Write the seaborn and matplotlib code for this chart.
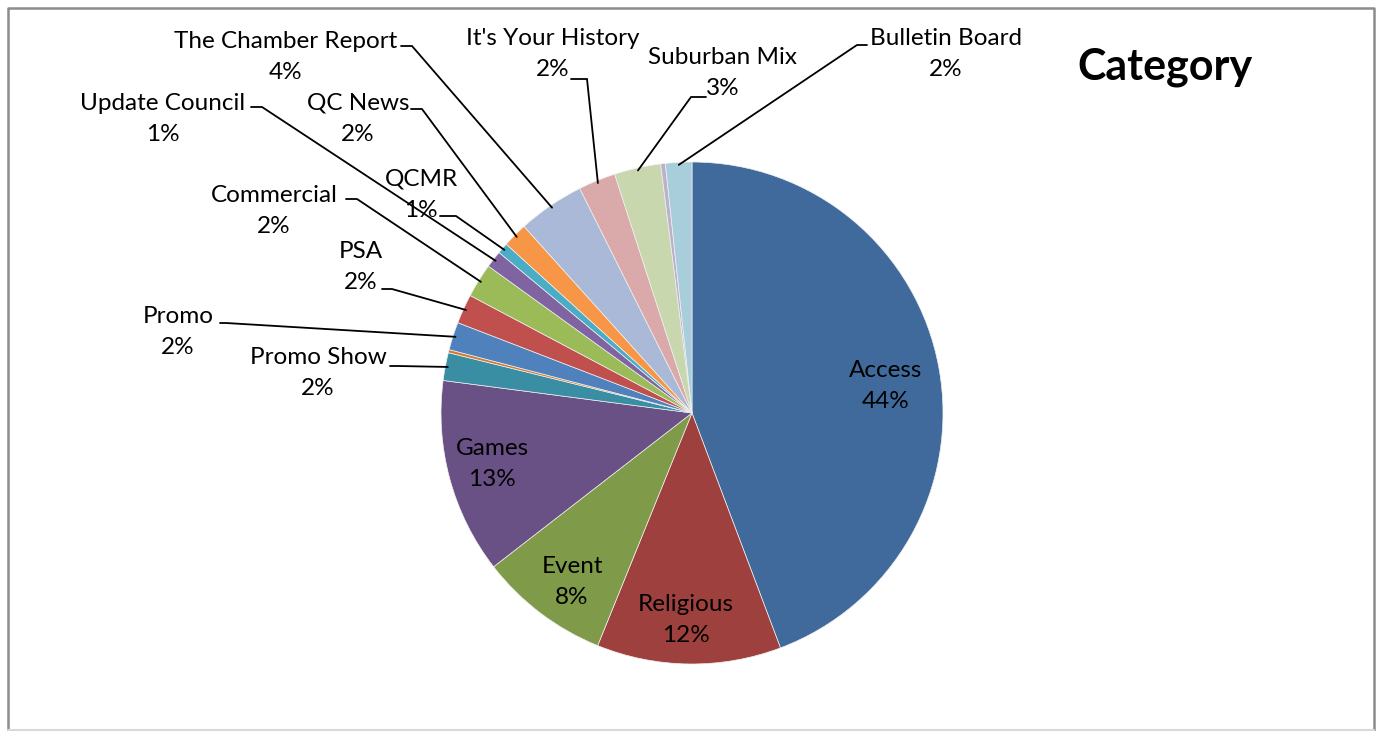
import matplotlib
matplotlib.use("Agg")
import matplotlib.pyplot as plt
import seaborn as sns
import numpy as np

# slice data, clockwise from 12 o'clock (two unlabeled slivers have no name)
categories = ["Access", "Religious", "Event", "Games", "Promo Show", "",
              "Promo", "PSA", "Commercial", "Update Council", "QCMR", "QC News",
              "The Chamber Report", "It's Your History", "Suburban Mix", "",
              "Bulletin Board"]
shares = [44.4, 11.9, 8.4, 12.6, 1.8, 0.2,
          1.8, 1.9, 2.2, 1.1, 0.7, 1.6,
          4.3, 2.4, 3.0, 0.3,
          1.7]
colors = ["#406a9c", "#9e413e", "#7f9a48", "#695185", "#3a8ea4", "#d07c36",
          "#4f81bd", "#c0504d", "#9bbb59", "#8064a2", "#4bacc6", "#f79646",
          "#aab9d8", "#d9aaa9", "#c8d7ae", "#bcb1cc",
          "#a9cedb"]

sns.set_style("white")
plt.rcParams["font.family"] = ["Lato", "DejaVu Sans"]

W, H = 1377, 731
fig = plt.figure(figsize=(W / 100, H / 100), dpi=100)
ax = fig.add_axes([0, 0, 1, 1])


def py(y):
    # pixel row (from top) -> data y
    return H - y


cx, cy, R = 692, py(413), 251
wedges, _ = ax.pie(shares, colors=colors, startangle=90, counterclock=False,
                   center=(cx, cy), radius=R, frame=True,
                   wedgeprops=dict(edgecolor="#f0f0f0", linewidth=0.5))
ax.set_xlim(0, W)
ax.set_ylim(0, H)
ax.set_aspect("equal")
ax.axis("off")

total = sum(shares)
pct = {c: f"{round(v / total * 100):.0f}%" for c, v in zip(categories, shares) if c}

fs = 17.5
ls = 1.62

# labels placed inside their slices: text block centre
inside = {
    "Access": (886, 386),
    "Religious": (686, 620),
    "Event": (572, 582),
    "Games": (492, 464),
}
# outside labels: text centre, leader start (x, y) and elbow x
outside = {
    "The Chamber Report": ((286, 57), (401, 46), 412),
    "It's Your History": ((553, 54), (571, 79), 587),
    "Suburban Mix": ((723, 73), (706, 97), 691),
    "Bulletin Board": ((946, 54), (867, 45), 857),
    "Update Council": ((163, 119), (251, 107), 262),
    "QC News": ((358, 119), (411, 109), 422),
    "QCMR": ((421, 195), (440, 216), 456),
    "Commercial": ((274, 211), (346, 199), 357),
    "PSA": ((361, 267), (382, 289), 392),
    "Promo": ((178, 332), (220, 323), 226),
    "Promo Show": ((318, 373), (390, 366), 398),
}

for w, name in zip(wedges, categories):
    if not name:
        continue
    label = f"{name}\n{pct[name]}"
    if name in inside:
        x, y = inside[name]
        ax.text(x, py(y), label, ha="center", va="center", fontsize=fs,
                linespacing=ls, color="black")
        continue
    (tx, ty), (sx, sy), ex = outside[name]
    ax.text(tx, py(ty), label, ha="center", va="center", fontsize=fs,
            linespacing=ls, color="black")
    mid = np.deg2rad((w.theta1 + w.theta2) / 2)
    px_ = cx + R * 0.99 * np.cos(mid)
    py_ = cy + R * 0.99 * np.sin(mid)
    ax.plot([sx, ex, px_], [py(sy), py(sy), py_], color="black", lw=1.3,
            solid_joinstyle="miter", zorder=5)

ax.text(1165, py(67), "Category", ha="center", va="center", fontsize=31,
        fontweight="bold", color="black")

# chart border
ax.plot([8, 8, 1374, 1374], [py(730), py(8), py(8), py(730)], color="#8c8c8c",
        lw=1.8, clip_on=False)
ax.plot([8, 1374], [py(730), py(730)], color="#d9d9d9", lw=1.5, clip_on=False)

fig.savefig("out.png", dpi=100)
